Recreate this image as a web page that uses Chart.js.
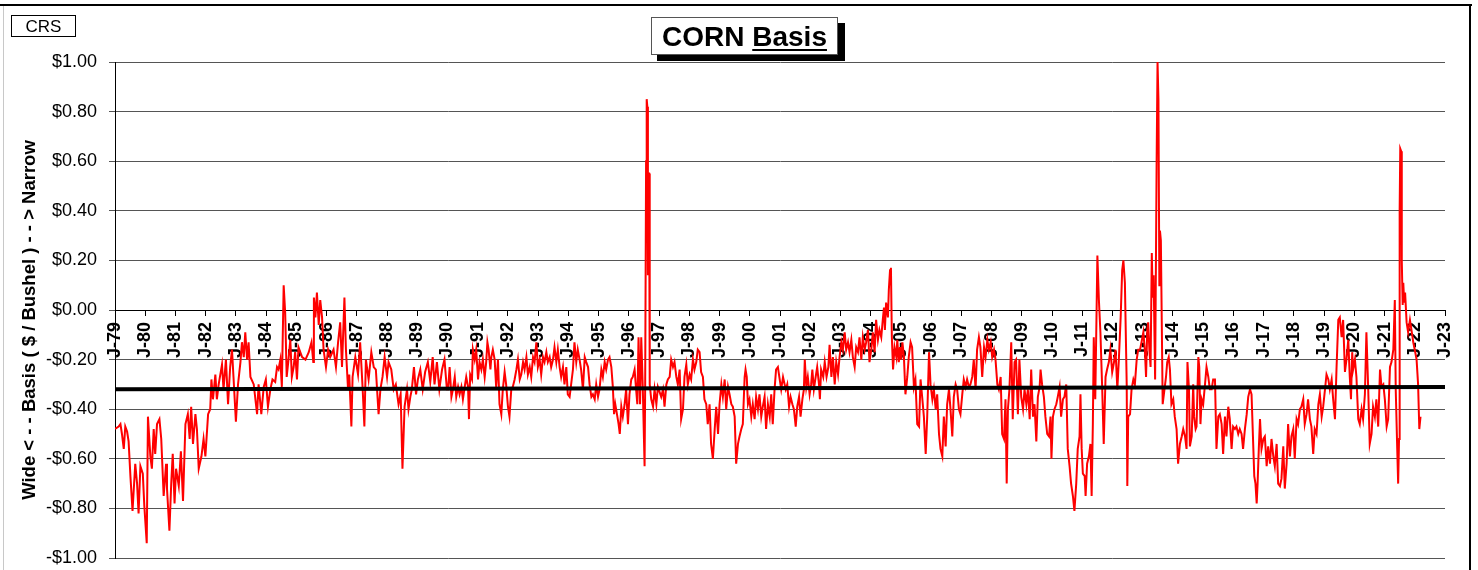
<!DOCTYPE html>
<html><head><meta charset="utf-8">
<script src="https://cdn.jsdelivr.net/npm/chart.js@4.4.1/dist/chart.umd.min.js"></script>
<style>html,body{margin:0;padding:0;background:#fff;overflow:hidden}</style>
</head><body>
<canvas id="c" width="1478" height="570"></canvas>
<script>
// ---- Data (decimal year, $/bushel basis) ----
const dates1979 = [
1979.00,1979.12,1979.18,1979.23,1979.29,1979.34,1979.40,1979.45,1979.51,1979.58,
1979.67,1979.73,1979.78,1979.84,1979.92,1979.97,1980.05,1980.09,1980.17,1980.22,
1980.28,1980.33,1980.39,1980.47,1980.53,1980.61,1980.69,1980.72,1980.80,1980.86,
1980.91,1980.97,1981.02,1981.11,1981.18,1981.25,1981.33,1981.41,1981.47,1981.52,
1981.58,1981.66,1981.71,1981.77,1981.86,1981.93,1981.99,1982.08,1982.15,1982.19,
1982.24,1982.32,1982.37,1982.43,1982.54,1982.59,1982.67,1982.74,1982.81,1982.87,
1982.92,1983.00,1983.07,1983.15,1983.20,1983.26,1983.31,1983.37,1983.42,1983.48,
1983.59,1983.70,1983.75,1983.84,1983.92,1983.99,1984.06,1984.14,1984.21,1984.30,
1984.36,1984.41,1984.47,1984.52,1984.58,1984.63,1984.68,1984.74,1984.80,1984.85,
1984.91,1984.96,1985.02,1985.07,1985.19,1985.30,1985.41,1985.50,1985.56,1985.58,
1985.63,1985.68,1985.74,1985.79,1985.85,1985.90,1985.98,1986.05,1986.12,1986.23,
1986.31,1986.38,1986.45,1986.51,1986.59,1986.64,1986.71,1986.75,1986.82,1986.86,
1986.95,1987.04,1987.11,1987.19,1987.25,1987.30,1987.39,1987.48,1987.56,1987.63,
1987.72,1987.78,1987.85,1987.92,1988.00,1988.05,1988.14,1988.22,1988.29,1988.38,
1988.45,1988.51,1988.58,1988.66,1988.71,1988.77,1988.82,1988.89,1988.96,1989.02,
1989.10,1989.18,1989.26,1989.35,1989.43,1989.51,1989.57,1989.65,1989.73,1989.82,
1989.90,1989.98];
const basis1979 = [
-0.48,-0.47,-0.46,-0.50,-0.56,-0.47,-0.49,-0.53,-0.67,-0.81,
-0.62,-0.70,-0.82,-0.63,-0.66,-0.79,-0.94,-0.43,-0.59,-0.64,
-0.48,-0.58,-0.46,-0.44,-0.52,-0.75,-0.62,-0.72,-0.89,-0.70,
-0.58,-0.78,-0.64,-0.71,-0.57,-0.77,-0.46,-0.42,-0.52,-0.39,
-0.54,-0.42,-0.48,-0.64,-0.59,-0.52,-0.59,-0.42,-0.40,-0.28,
-0.36,-0.26,-0.36,-0.30,-0.22,-0.32,-0.20,-0.38,-0.23,-0.16,
-0.27,-0.45,-0.30,-0.21,-0.13,-0.19,-0.09,-0.20,-0.13,-0.27,
-0.30,-0.42,-0.30,-0.42,-0.31,-0.28,-0.39,-0.32,-0.28,-0.29,
-0.23,-0.24,-0.20,-0.31,0.10,-0.01,-0.27,-0.20,-0.12,-0.27,
-0.23,-0.17,-0.28,-0.15,-0.19,-0.20,-0.17,-0.13,-0.21,0.05,
-0.03,0.07,-0.06,0.04,-0.03,-0.16,-0.23,-0.16,-0.19,-0.16,
-0.23,-0.13,-0.05,-0.23,0.05,-0.16,-0.32,-0.26,-0.47,-0.27,
-0.19,-0.26,-0.13,-0.31,-0.47,-0.20,-0.28,-0.17,-0.23,-0.24,
-0.42,-0.32,-0.27,-0.19,-0.27,-0.21,-0.24,-0.32,-0.30,-0.38,
-0.34,-0.64,-0.39,-0.32,-0.40,-0.35,-0.32,-0.23,-0.34,-0.28,
-0.24,-0.32,-0.25,-0.21,-0.29,-0.19,-0.30,-0.21,-0.32,-0.24,
-0.20,-0.32];

const dates1990 = [
1990.02,1990.07,1990.13,1990.18,1990.24,1990.29,1990.35,1990.40,1990.46,1990.51,
1990.57,1990.62,1990.68,1990.71,1990.75,1990.81,1990.84,1990.90,1990.95,1991.01,
1991.06,1991.12,1991.17,1991.23,1991.28,1991.32,1991.36,1991.42,1991.45,1991.50,
1991.56,1991.61,1991.67,1991.72,1991.78,1991.83,1991.89,1991.94,1992.00,1992.05,
1992.11,1992.16,1992.22,1992.28,1992.33,1992.39,1992.44,1992.50,1992.55,1992.61,
1992.66,1992.72,1992.77,1992.83,1992.88,1992.94,1992.99,1993.05,1993.10,1993.16,
1993.21,1993.27,1993.32,1993.38,1993.43,1993.49,1993.54,1993.60,1993.65,1993.71,
1993.76,1993.82,1993.87,1993.93,1993.98,1994.04,1994.09,1994.15,1994.20,1994.26,
1994.31,1994.37,1994.42,1994.48,1994.54,1994.59,1994.65,1994.70,1994.76,1994.81,
1994.87,1994.92,1994.98,1995.03,1995.09,1995.14,1995.20,1995.25,1995.31,1995.36,
1995.42,1995.47,1995.51,1995.55,1995.62,1995.66,1995.70,1995.75,1995.80,1995.86,
1995.91,1995.97,1996.02,1996.08,1996.13,1996.19,1996.24,1996.28,1996.32,1996.37,
1996.41,1996.46,1996.52,1996.54,1996.57,1996.59,1996.61,1996.63,1996.645,1996.67,
1996.69,1996.74,1996.80,1996.85,1996.91,1996.96,1997.07,1997.13,1997.18,1997.24,
1997.29,1997.35,1997.40,1997.46,1997.51,1997.57,1997.62,1997.68,1997.73,1997.79,
1997.84,1997.90,1997.95,1998.01,1998.06,1998.12,1998.17,1998.23,1998.28,1998.34,
1998.39,1998.45,1998.50,1998.56,1998.61,1998.67,1998.72,1998.78,1998.84,1998.89,
1998.95,1999.00,1999.06,1999.11,1999.17,1999.22,1999.28,1999.33,1999.39,1999.44,
1999.50,1999.55,1999.61,1999.66,1999.72,1999.77,1999.83,1999.86,1999.90,1999.94,
1999.99,2000.05,2000.10,2000.16,2000.21,2000.27,2000.32,2000.38,2000.43,2000.49,
2000.54,2000.60,2000.66,2000.71,2000.76,2000.82,2000.87,2000.93,2000.99,2001.04,
2001.10];
const basis1990 = [
-0.32,-0.23,-0.35,-0.32,-0.27,-0.35,-0.31,-0.34,-0.31,-0.36,
-0.31,-0.27,-0.31,-0.44,-0.26,-0.28,-0.16,-0.20,-0.16,-0.28,
-0.21,-0.24,-0.20,-0.27,-0.21,-0.13,-0.16,-0.24,-0.19,-0.16,
-0.20,-0.31,-0.20,-0.38,-0.42,-0.32,-0.25,-0.30,-0.39,-0.43,
-0.32,-0.31,-0.28,-0.24,-0.20,-0.28,-0.26,-0.21,-0.24,-0.19,
-0.26,-0.23,-0.27,-0.19,-0.21,-0.13,-0.23,-0.20,-0.26,-0.19,
-0.21,-0.17,-0.21,-0.19,-0.23,-0.20,-0.15,-0.21,-0.16,-0.23,
-0.27,-0.23,-0.30,-0.23,-0.34,-0.35,-0.30,-0.24,-0.13,-0.21,
-0.16,-0.20,-0.24,-0.32,-0.19,-0.21,-0.23,-0.30,-0.35,-0.34,
-0.36,-0.30,-0.35,-0.32,-0.24,-0.27,-0.21,-0.24,-0.20,-0.19,
-0.23,-0.31,-0.42,-0.38,-0.43,-0.46,-0.50,-0.39,-0.43,-0.38,
-0.32,-0.46,-0.34,-0.28,-0.27,-0.24,-0.32,-0.38,-0.11,-0.38,
-0.11,-0.31,-0.63,-0.30,0.60,0.85,0.82,0.14,0.55,0.55,
-0.30,-0.36,-0.39,-0.32,-0.38,-0.31,-0.35,-0.32,-0.39,-0.30,
-0.28,-0.27,-0.20,-0.23,-0.21,-0.27,-0.30,-0.24,-0.44,-0.40,
-0.27,-0.22,-0.30,-0.26,-0.28,-0.20,-0.24,-0.21,-0.16,-0.17,
-0.25,-0.27,-0.36,-0.38,-0.46,-0.38,-0.54,-0.60,-0.48,-0.39,
-0.50,-0.38,-0.30,-0.35,-0.28,-0.40,-0.31,-0.34,-0.38,-0.39,
-0.43,-0.62,-0.54,-0.51,-0.48,-0.46,-0.27,-0.24,-0.27,-0.38,
-0.36,-0.43,-0.38,-0.44,-0.35,-0.40,-0.34,-0.43,-0.39,-0.35,
-0.48,-0.38,-0.43,-0.34,-0.46,-0.32,-0.24,-0.23,-0.28,-0.32,
-0.27];

const dates2001 = [
2001.19,2001.24,2001.30,2001.35,2001.41,2001.46,2001.52,2001.57,2001.63,2001.68,
2001.74,2001.79,2001.82,2001.87,2001.92,2001.98,2002.03,2002.07,2002.12,2002.18,
2002.23,2002.29,2002.32,2002.36,2002.43,2002.48,2002.54,2002.60,2002.64,2002.70,
2002.75,2002.81,2002.86,2002.92,2002.97,2003.03,2003.08,2003.14,2003.19,2003.25,
2003.30,2003.36,2003.41,2003.47,2003.52,2003.58,2003.63,2003.69,2003.74,2003.80,
2003.85,2003.91,2003.96,2004.02,2004.07,2004.13,2004.18,2004.24,2004.29,2004.35,
2004.40,2004.44,2004.47,2004.51,2004.57,2004.60,2004.64,2004.67,2004.70,2004.74,
2004.79,2004.85,2004.88,2004.93,2004.97,2005.01,2005.05,2005.10,2005.15,2005.21,
2005.26,2005.32,2005.37,2005.43,2005.48,2005.54,2005.60,2005.65,2005.71,2005.76,
2005.82,2005.87,2005.93,2005.98,2006.04,2006.09,2006.15,2006.20,2006.26,2006.31,
2006.37,2006.42,2006.48,2006.53,2006.59,2006.64,2006.70,2006.75,2006.81,2006.86,
2006.92,2006.97,2007.03,2007.08,2007.14,2007.19,2007.25,2007.30,2007.36,2007.41,
2007.47,2007.52,2007.58,2007.63,2007.69,2007.75,2007.80,2007.86,2007.91,2007.97,
2008.02,2008.08,2008.13,2008.19,2008.24,2008.30,2008.35,2008.41,2008.46,2008.50,
2008.54,2008.59,2008.65,2008.70,2008.76,2008.81,2008.87,2008.92,2008.98,2009.04,
2009.09,2009.15,2009.20,2009.26,2009.31,2009.37,2009.42,2009.48,2009.53,2009.59,
2009.62,2009.67,2009.73,2009.78,2009.84,2009.90,2009.95,2009.98,2010.03,2010.08,
2010.14,2010.19,2010.25,2010.30,2010.36,2010.41,2010.47,2010.52,2010.58,2010.63,
2010.69,2010.74,2010.80,2010.85,2010.91,2010.94,2010.98,2011.02,2011.08,2011.11,
2011.16,2011.22,2011.27,2011.31,2011.35,2011.38,2011.43,2011.47,2011.50,2011.55,
2011.60,2011.66,2011.71,2011.77,2011.82,2011.88,2011.93,2011.99,2012.05,2012.10,
2012.16,2012.21,2012.27];
const basis2001 = [
-0.32,-0.30,-0.39,-0.35,-0.38,-0.40,-0.47,-0.39,-0.35,-0.43,
-0.36,-0.32,-0.20,-0.31,-0.27,-0.34,-0.30,-0.24,-0.32,-0.27,
-0.23,-0.30,-0.36,-0.24,-0.27,-0.21,-0.27,-0.23,-0.14,-0.27,
-0.19,-0.30,-0.21,-0.26,-0.19,-0.13,-0.16,-0.09,-0.16,-0.13,
-0.17,-0.12,-0.19,-0.23,-0.15,-0.17,-0.11,-0.20,-0.11,-0.16,
-0.13,-0.08,-0.21,-0.16,-0.09,-0.17,-0.04,-0.12,-0.08,-0.11,
-0.04,0.01,-0.08,0.03,-0.03,0.08,0.16,0.17,-0.11,-0.24,
-0.15,-0.19,-0.12,-0.21,-0.15,-0.20,-0.13,-0.19,-0.34,-0.27,
-0.19,-0.13,-0.15,-0.31,-0.28,-0.46,-0.47,-0.28,-0.36,-0.43,
-0.58,-0.43,-0.17,-0.30,-0.36,-0.32,-0.40,-0.34,-0.50,-0.56,
-0.59,-0.43,-0.55,-0.38,-0.32,-0.40,-0.51,-0.35,-0.30,-0.32,
-0.40,-0.42,-0.34,-0.28,-0.31,-0.28,-0.31,-0.30,-0.27,-0.20,
-0.32,-0.16,-0.11,-0.15,-0.27,-0.15,-0.19,-0.12,-0.16,-0.13,
-0.19,-0.16,-0.20,-0.30,-0.32,-0.27,-0.50,-0.52,-0.36,-0.70,
-0.40,-0.32,-0.13,-0.44,-0.21,-0.20,-0.42,-0.20,-0.35,-0.40,
-0.32,-0.38,-0.32,-0.44,-0.24,-0.43,-0.38,-0.53,-0.35,-0.31,
-0.24,-0.30,-0.35,-0.43,-0.50,-0.51,-0.43,-0.60,-0.43,-0.40,
-0.38,-0.35,-0.31,-0.43,-0.36,-0.35,-0.30,-0.56,-0.63,-0.70,
-0.75,-0.81,-0.70,-0.56,-0.51,-0.34,-0.56,-0.66,-0.67,-0.75,
-0.62,-0.59,-0.54,-0.75,-0.46,-0.11,-0.36,-0.03,0.22,0.04,
-0.09,-0.32,-0.54,-0.27,-0.24,-0.21,-0.16,-0.25,-0.21,-0.16,
-0.32,-0.20,-0.03];

const dates2012 = [
2012.32,2012.36,2012.41,2012.47,2012.49,2012.52,2012.58,2012.63,2012.69,2012.74,
2012.80,2012.85,2012.91,2012.96,2013.02,2013.07,2013.11,2013.15,2013.18,2013.22,
2013.26,2013.30,2013.33,2013.36,2013.41,2013.46,2013.49,2013.52,2013.55,2013.57,
2013.60,2013.63,2013.66,2013.77,2013.81,2013.86,2013.90,2013.95,2014.01,2014.06,
2014.12,2014.17,2014.23,2014.29,2014.34,2014.40,2014.45,2014.48,2014.53,2014.56,
2014.62,2014.67,2014.70,2014.75,2014.78,2014.84,2014.87,2014.91,2014.95,2015.00,
2015.06,2015.11,2015.17,2015.22,2015.28,2015.33,2015.39,2015.44,2015.50,2015.55,
2015.61,2015.66,2015.72,2015.77,2015.83,2015.88,2015.94,2015.99,2016.05,2016.10,
2016.16,2016.21,2016.27,2016.32,2016.38,2016.44,2016.49,2016.55,2016.60,2016.66,
2016.69,2016.73,2016.77,2016.80,2016.84,2016.88,2016.93,2016.99,2017.04,2017.10,
2017.15,2017.21,2017.26,2017.32,2017.37,2017.43,2017.48,2017.54,2017.59,2017.65,
2017.70,2017.76,2017.81,2017.87,2017.92,2017.98,2018.03,2018.09,2018.14,2018.20,
2018.25,2018.31,2018.36,2018.42,2018.47,2018.53,2018.58,2018.64,2018.69,2018.75,
2018.81,2018.86,2018.92,2018.97,2019.03,2019.08,2019.14,2019.19,2019.25,2019.30,
2019.36,2019.41,2019.47,2019.52,2019.58,2019.63,2019.69,2019.74,2019.80,2019.85,
2019.89,2019.93,2019.96,2020.02,2020.07,2020.13,2020.18,2020.24,2020.29,2020.35,
2020.40,2020.46,2020.51,2020.57,2020.62,2020.68,2020.73,2020.79,2020.85,2020.90,
2020.96,2021.01,2021.07,2021.12,2021.18,2021.23,2021.29,2021.34,2021.37,2021.42,
2021.45,2021.48,2021.50,2021.52,2021.55,2021.57,2021.60,2021.62,2021.65,2021.68,
2021.73,2021.78,2021.84,2021.89,2021.95,2022.00,2022.06,2022.11,2022.15,2022.19];
const basis2012 = [
0.16,0.20,0.11,-0.30,-0.71,-0.43,-0.42,-0.32,-0.28,-0.30,
-0.20,-0.16,-0.16,-0.13,-0.09,-0.16,-0.27,-0.08,-0.05,-0.16,
-0.23,0.23,0.05,0.14,-0.28,0.60,1.00,0.85,0.10,0.32,
0.28,-0.05,-0.38,-0.27,-0.21,-0.19,-0.24,-0.38,-0.36,-0.43,
-0.48,-0.62,-0.54,-0.51,-0.48,-0.51,-0.56,-0.21,-0.32,-0.55,
-0.51,-0.30,-0.43,-0.48,-0.47,-0.19,-0.23,-0.46,-0.36,-0.38,
-0.30,-0.23,-0.27,-0.32,-0.32,-0.28,-0.28,-0.56,-0.43,-0.42,
-0.46,-0.58,-0.43,-0.51,-0.39,-0.44,-0.56,-0.47,-0.48,-0.47,
-0.50,-0.48,-0.50,-0.56,-0.48,-0.42,-0.35,-0.32,-0.34,-0.56,
-0.67,-0.70,-0.78,-0.70,-0.56,-0.44,-0.56,-0.52,-0.51,-0.63,
-0.55,-0.62,-0.52,-0.59,-0.63,-0.54,-0.70,-0.71,-0.68,-0.55,
-0.72,-0.62,-0.46,-0.59,-0.51,-0.48,-0.60,-0.44,-0.46,-0.40,
-0.39,-0.36,-0.46,-0.42,-0.36,-0.44,-0.47,-0.58,-0.48,-0.50,
-0.38,-0.34,-0.43,-0.39,-0.32,-0.26,-0.28,-0.32,-0.28,-0.36,
-0.44,-0.24,-0.04,-0.03,-0.11,-0.04,-0.25,-0.20,-0.12,-0.27,
-0.36,-0.17,-0.24,-0.20,-0.27,-0.44,-0.46,-0.40,-0.44,-0.34,
-0.09,-0.32,-0.54,-0.50,-0.39,-0.43,-0.36,-0.47,-0.24,-0.31,
-0.30,-0.36,-0.47,-0.44,-0.23,-0.21,-0.16,0.04,-0.32,-0.56,
-0.70,-0.52,0.40,0.65,0.64,0.20,0.02,0.11,0.03,0.07,
-0.05,-0.09,-0.04,-0.08,-0.13,-0.16,-0.20,-0.30,-0.48,-0.43];

// Average line (endpoints as read)
const avgDates = [1979, 2023];
const avgValues = [-0.32, -0.31];

// Axis settings
const yearMin = 1979, yearMax = 2023;
const basisMin = -1, basisMax = 1, basisStep = 0.2;

const dates = [...dates1979, ...dates1990, ...dates2001, ...dates2012];
const basis = [...basis1979, ...basis1990, ...basis2001, ...basis2012];
if (dates.length !== basis.length) console.error('length mismatch', dates.length, basis.length);

const fmtMoney = v => (v < -1e-9 ? '-' : '') + '$' + Math.abs(v).toFixed(2);
const fmtYear = v => 'J-' + String(Math.round(v) % 100).padStart(2, '0');

const decor = {
  id: 'decor',
  afterDraw(chart) {
    const c = chart.ctx;
    c.save();
    // outer frame
    c.fillStyle = '#000';
    c.fillRect(0, 4, 1472, 2);
    c.fillRect(1469, 4, 2, 566);
    c.fillStyle = '#c8c8c8';
    c.fillRect(3, 6, 1, 564);
    // CRS box
    c.fillStyle = '#fff';
    c.fillRect(11, 15, 65, 22);
    c.strokeStyle = '#000'; c.lineWidth = 1;
    c.strokeRect(11.5, 15.5, 64, 21);
    c.fillStyle = '#000';
    c.font = '17px "Liberation Sans"';
    c.textAlign = 'center'; c.textBaseline = 'alphabetic';
    c.fillText('CRS', 43.5, 32);
    // Title box with shadow
    c.fillStyle = '#000';
    c.fillRect(657, 23, 188, 38);
    c.fillStyle = '#fff';
    c.fillRect(651, 17, 187, 38);
    c.strokeStyle = '#555';
    c.strokeRect(651.5, 17.5, 186, 37);
    c.font = 'bold 28px "Liberation Sans"';
    c.textAlign = 'left';
    const t1 = 'CORN ', t2 = 'Basis';
    const w1 = c.measureText(t1).width, w2 = c.measureText(t2).width;
    const x0 = 744.5 - (w1 + w2) / 2, by = 46;
    c.fillStyle = '#000';
    c.fillText(t1, x0, by);
    c.fillText(t2, x0 + w1, by);
    c.fillRect(x0 + w1, by + 3, w2, 2);
    // Y axis title
    c.translate(30, 320);
    c.rotate(-Math.PI / 2);
    c.textAlign = 'center'; c.textBaseline = 'middle';
    c.font = 'bold 18.5px "Liberation Sans"';
    c.fillText('Wide < - - Basis ( $ / Bushel ) - - > Narrow', 0, 0);
    c.restore();
  }
};

new Chart(document.getElementById('c').getContext('2d'), {
  type: 'line',
  data: {
    datasets: [
      { label: 'Average', data: avgDates.map((d, i) => ({ x: d, y: avgValues[i] })),
        borderColor: '#000', borderWidth: 4, pointRadius: 0 },
      { label: 'Basis', data: dates.map((d, i) => ({ x: d, y: basis[i] })),
        borderColor: '#ff0000', borderWidth: 2, pointRadius: 0, tension: 0 }
    ]
  },
  options: {
    responsive: false, animation: false, devicePixelRatio: 1,
    layout: { padding: { left: 0, top: 62, right: 33, bottom: 12 } },
    plugins: { legend: { display: false }, tooltip: { enabled: false }, title: { display: false } },
    scales: {
      x: {
        type: 'linear', position: { y: 0 }, min: yearMin, max: yearMax,
        ticks: { stepSize: 1, autoSkip: false, minRotation: 90, maxRotation: 90, padding: 7,
          color: '#000', font: { family: 'Liberation Sans', size: 18, weight: 'bold' }, callback: fmtYear },
        grid: { drawOnChartArea: false, tickLength: 5, color: '#000' },
        border: { color: '#000', width: 1 },
        afterFit(s) { s.paddingLeft = 0; s.paddingRight = 0; s.paddingTop = 0; s.paddingBottom = 0; }
      },
      y: {
        min: basisMin, max: basisMax,
        ticks: { stepSize: basisStep, padding: 12, color: '#000',
          font: { family: 'Liberation Sans', size: 18 }, callback: fmtMoney },
        grid: { color: '#555', tickLength: 6 },
        border: { color: '#000', width: 1 },
        afterFit(s) { s.width = 115; s.paddingTop = 0; s.paddingBottom = 0; }
      }
    }
  },
  plugins: [decor]
});
</script>
</body></html>
